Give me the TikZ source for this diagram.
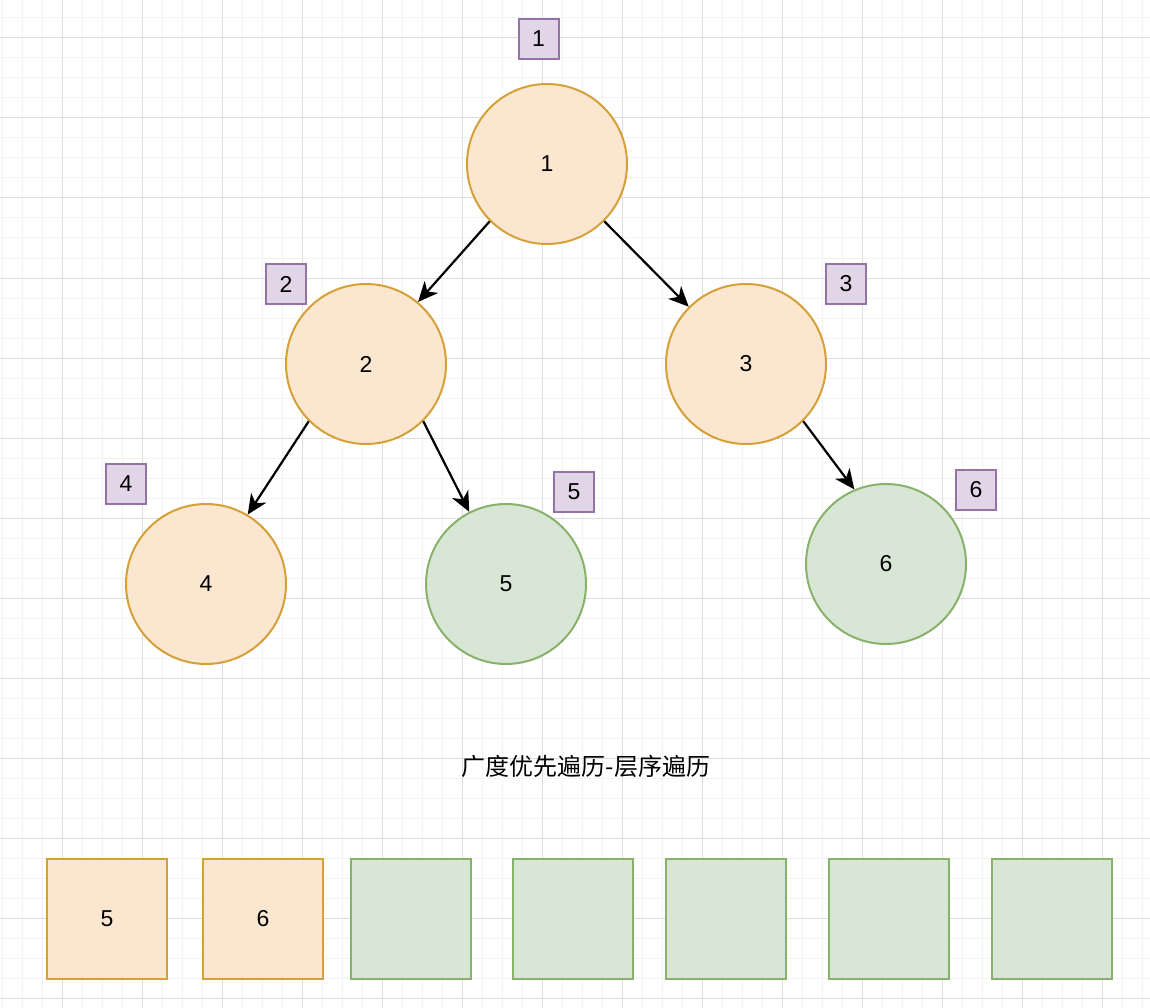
\documentclass[tikz,border=0pt]{standalone}
\usepackage{fontspec}
\setmainfont{Liberation Sans}
\newfontfamily\cjk{Noto Sans CJK SC}
\usetikzlibrary{arrows.meta}
\definecolor{orfill}{HTML}{FBE6D0}
\definecolor{ordraw}{HTML}{D6A038}
\definecolor{grfill}{HTML}{D8E7D5}
\definecolor{grdraw}{HTML}{88B26C}
\definecolor{pufill}{HTML}{E1D5E7}
\definecolor{pudraw}{HTML}{9673A6}
\definecolor{gridminor}{HTML}{F3F3F3}
\definecolor{gridmajor}{HTML}{DDDDDD}
\begin{document}
\begin{tikzpicture}[x=1pt, y=-1pt,
    font=\fontsize{23}{26}\selectfont,
    orcircle/.style={circle, draw=ordraw, fill=orfill, line width=2pt, minimum size=160pt, inner sep=0pt},
    grcircle/.style={circle, draw=grdraw, fill=grfill, line width=2pt, minimum size=160pt, inner sep=0pt},
    tag/.style={rectangle, draw=pudraw, fill=pufill, line width=2pt, minimum size=40pt, inner sep=0pt},
    orcell/.style={rectangle, draw=ordraw, fill=orfill, line width=2pt, minimum size=120pt, inner sep=0pt},
    grcell/.style={rectangle, draw=grdraw, fill=grfill, line width=2pt, minimum size=120pt, inner sep=0pt},
    edge/.style={-{Stealth[length=20pt, width=18pt, inset=6pt]}, line width=2.2pt}]
    \useasboundingbox (0,0) rectangle (1150,1008);
    \fill[white] (0,0) rectangle (1150,1008);

    % grid
    \foreach \x in {2,22,...,1150} \draw[gridminor, line width=1pt] (\x,0) -- (\x,1008);
    \foreach \y in {18,38,...,1008} \draw[gridminor, line width=1pt] (0,\y) -- (1150,\y);
    \foreach \x in {62,142,...,1150} \draw[gridmajor, line width=1pt] (\x,0) -- (\x,1008);
    \foreach \y in {38,118,...,1008} \draw[gridmajor, line width=1pt] (0,\y) -- (1150,\y);

    % tree nodes
    \node[orcircle] (n1) at (547,164) {1};
    \node[orcircle] (n2) at (366,364) {2};
    \node[orcircle] (n3) at (746,364) {3};
    \node[orcircle] (n4) at (206,584) {4};
    \node[grcircle] (n5) at (506,584) {5};
    \node[grcircle] (n6) at (886,564) {6};

    % visit order tags
    \node[tag] (t1) at (538.5,39) {1};
    \node[tag] (t2) at (286,284) {2};
    \node[tag] (t3) at (846,284) {3};
    \node[tag] (t4) at (126,484) {4};
    \node[tag] (t5) at (574,492) {5};
    \node[tag] (t6) at (976,490) {6};

    % edges
    \draw[edge] (n1.-135) -- (n2.50);
    \draw[edge] (n1.-45) -- (n3.135);
    \draw[edge] (n2.-135) -- (n4.59);
    \draw[edge] (n2.-45) -- (n5.117);
    \draw[edge] (n3.-45) -- (n6.113);

    % title
    \node (title) at (586,766) {\fontsize{24}{28}\selectfont\cjk 广度优先遍历-层序遍历};

    % queue
    \node[orcell] (q1) at (107,919) {5};
    \node[orcell] (q2) at (263,919) {6};
    \node[grcell] (q3) at (411,919) {};
    \node[grcell] (q4) at (573,919) {};
    \node[grcell] (q5) at (726,919) {};
    \node[grcell] (q6) at (889,919) {};
    \node[grcell] (q7) at (1052,919) {};
\end{tikzpicture}
\end{document}
